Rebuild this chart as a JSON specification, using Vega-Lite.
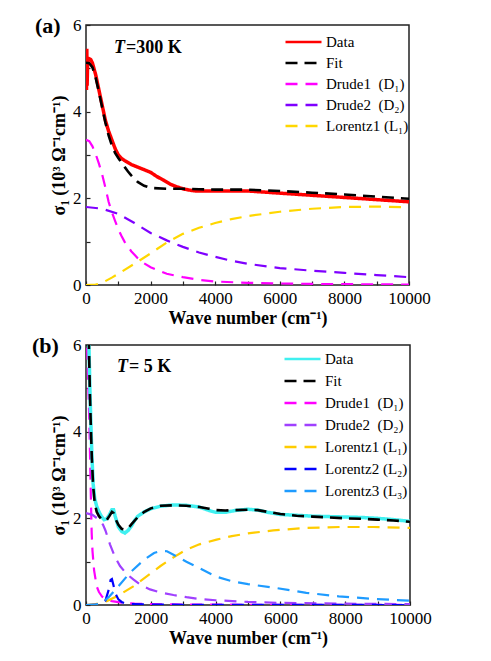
{
  "$schema": "https://vega.github.io/schema/vega-lite/v6.json",
  "background": "white",
  "padding": {"left": 31, "top": 14, "right": 5, "bottom": 5},
  "spacing": 6,
  "config": {
    "font": "Liberation Serif",
    "view": {"stroke": "#222222", "strokeWidth": 1.5},
    "axis": {
      "domain": false, "grid": false, "ticks": true, "tickColor": "#222222", "tickSize": -4, "tickWidth": 1.2,
      "labelFont": "Liberation Serif", "labelFontSize": 17, "labelColor": "black", "labelPadding": 9,
      "titleFont": "Liberation Serif", "titleFontSize": 18, "titleFontWeight": "bold", "titleColor": "black",
      "labelFlush": false, "labelOverlap": false, "format": "d"
    },
    "axisX": {"titlePadding": 3},
    "axisY": {"titlePadding": 4},
    "legend": {
      "orient": "none", "title": null, "symbolType": "stroke", "symbolSize": 1296, "symbolStrokeWidth": 2.5,
      "clipHeight": 14, "labelFont": "Liberation Serif", "labelFontSize": 15, "labelColor": "black",
      "labelOffset": 3, "padding": 0, "labelLimit": 300
    },
    "title": {"font": "Liberation Serif", "fontSize": 22, "fontWeight": "bold", "color": "black", "anchor": "start", "frame": "group", "offset": 0}
  },
  "resolve": {"scale": {"color": "independent", "strokeDash": "independent"}},
  "datasets": {
    "a": [
      {"series": "Data", "wavenumber": 15, "sigma": 4.5},
      {"series": "Data", "wavenumber": 25, "sigma": 5.45},
      {"series": "Data", "wavenumber": 35, "sigma": 4.6},
      {"series": "Data", "wavenumber": 50, "sigma": 5.15},
      {"series": "Data", "wavenumber": 100, "sigma": 5.22},
      {"series": "Data", "wavenumber": 150, "sigma": 5.2},
      {"series": "Data", "wavenumber": 200, "sigma": 5.12},
      {"series": "Data", "wavenumber": 300, "sigma": 4.85},
      {"series": "Data", "wavenumber": 400, "sigma": 4.5},
      {"series": "Data", "wavenumber": 500, "sigma": 4.15},
      {"series": "Data", "wavenumber": 600, "sigma": 3.8},
      {"series": "Data", "wavenumber": 700, "sigma": 3.55},
      {"series": "Data", "wavenumber": 800, "sigma": 3.35},
      {"series": "Data", "wavenumber": 900, "sigma": 3.15},
      {"series": "Data", "wavenumber": 1000, "sigma": 3.0},
      {"series": "Data", "wavenumber": 1100, "sigma": 2.92},
      {"series": "Data", "wavenumber": 1200, "sigma": 2.87},
      {"series": "Data", "wavenumber": 1400, "sigma": 2.78},
      {"series": "Data", "wavenumber": 1600, "sigma": 2.72},
      {"series": "Data", "wavenumber": 1800, "sigma": 2.66},
      {"series": "Data", "wavenumber": 2000, "sigma": 2.6},
      {"series": "Data", "wavenumber": 2200, "sigma": 2.5},
      {"series": "Data", "wavenumber": 2400, "sigma": 2.42},
      {"series": "Data", "wavenumber": 2600, "sigma": 2.33},
      {"series": "Data", "wavenumber": 2800, "sigma": 2.27},
      {"series": "Data", "wavenumber": 3000, "sigma": 2.22},
      {"series": "Data", "wavenumber": 3200, "sigma": 2.19},
      {"series": "Data", "wavenumber": 3400, "sigma": 2.17},
      {"series": "Data", "wavenumber": 4000, "sigma": 2.17},
      {"series": "Data", "wavenumber": 5000, "sigma": 2.17},
      {"series": "Data", "wavenumber": 6000, "sigma": 2.12},
      {"series": "Data", "wavenumber": 7000, "sigma": 2.07},
      {"series": "Data", "wavenumber": 8000, "sigma": 2.02},
      {"series": "Data", "wavenumber": 9000, "sigma": 1.97},
      {"series": "Data", "wavenumber": 10000, "sigma": 1.92},
      {"series": "Fit", "wavenumber": 0, "sigma": 5.13},
      {"series": "Fit", "wavenumber": 100, "sigma": 5.12},
      {"series": "Fit", "wavenumber": 200, "sigma": 5.02},
      {"series": "Fit", "wavenumber": 300, "sigma": 4.78},
      {"series": "Fit", "wavenumber": 400, "sigma": 4.45},
      {"series": "Fit", "wavenumber": 500, "sigma": 4.1},
      {"series": "Fit", "wavenumber": 600, "sigma": 3.75},
      {"series": "Fit", "wavenumber": 700, "sigma": 3.45},
      {"series": "Fit", "wavenumber": 800, "sigma": 3.22},
      {"series": "Fit", "wavenumber": 900, "sigma": 3.05},
      {"series": "Fit", "wavenumber": 1000, "sigma": 2.93},
      {"series": "Fit", "wavenumber": 1100, "sigma": 2.82},
      {"series": "Fit", "wavenumber": 1200, "sigma": 2.72},
      {"series": "Fit", "wavenumber": 1300, "sigma": 2.62},
      {"series": "Fit", "wavenumber": 1400, "sigma": 2.53},
      {"series": "Fit", "wavenumber": 1500, "sigma": 2.45},
      {"series": "Fit", "wavenumber": 1600, "sigma": 2.38},
      {"series": "Fit", "wavenumber": 1800, "sigma": 2.29},
      {"series": "Fit", "wavenumber": 2000, "sigma": 2.24},
      {"series": "Fit", "wavenumber": 2500, "sigma": 2.22},
      {"series": "Fit", "wavenumber": 3000, "sigma": 2.22},
      {"series": "Fit", "wavenumber": 3500, "sigma": 2.21},
      {"series": "Fit", "wavenumber": 4000, "sigma": 2.2},
      {"series": "Fit", "wavenumber": 5000, "sigma": 2.2},
      {"series": "Fit", "wavenumber": 6000, "sigma": 2.17},
      {"series": "Fit", "wavenumber": 7000, "sigma": 2.13},
      {"series": "Fit", "wavenumber": 8000, "sigma": 2.09},
      {"series": "Fit", "wavenumber": 9000, "sigma": 2.04},
      {"series": "Fit", "wavenumber": 10000, "sigma": 1.99},
      {"series": "Drude1\u00a0 (D\u2081)", "wavenumber": 0, "sigma": 3.35},
      {"series": "Drude1\u00a0 (D\u2081)", "wavenumber": 100, "sigma": 3.32},
      {"series": "Drude1\u00a0 (D\u2081)", "wavenumber": 200, "sigma": 3.2},
      {"series": "Drude1\u00a0 (D\u2081)", "wavenumber": 300, "sigma": 3.02},
      {"series": "Drude1\u00a0 (D\u2081)", "wavenumber": 400, "sigma": 2.8},
      {"series": "Drude1\u00a0 (D\u2081)", "wavenumber": 500, "sigma": 2.55},
      {"series": "Drude1\u00a0 (D\u2081)", "wavenumber": 600, "sigma": 2.25},
      {"series": "Drude1\u00a0 (D\u2081)", "wavenumber": 700, "sigma": 1.92},
      {"series": "Drude1\u00a0 (D\u2081)", "wavenumber": 800, "sigma": 1.68},
      {"series": "Drude1\u00a0 (D\u2081)", "wavenumber": 900, "sigma": 1.48},
      {"series": "Drude1\u00a0 (D\u2081)", "wavenumber": 1000, "sigma": 1.28},
      {"series": "Drude1\u00a0 (D\u2081)", "wavenumber": 1100, "sigma": 1.13},
      {"series": "Drude1\u00a0 (D\u2081)", "wavenumber": 1200, "sigma": 0.99},
      {"series": "Drude1\u00a0 (D\u2081)", "wavenumber": 1400, "sigma": 0.78},
      {"series": "Drude1\u00a0 (D\u2081)", "wavenumber": 1600, "sigma": 0.62},
      {"series": "Drude1\u00a0 (D\u2081)", "wavenumber": 1800, "sigma": 0.5},
      {"series": "Drude1\u00a0 (D\u2081)", "wavenumber": 2000, "sigma": 0.41},
      {"series": "Drude1\u00a0 (D\u2081)", "wavenumber": 2500, "sigma": 0.26},
      {"series": "Drude1\u00a0 (D\u2081)", "wavenumber": 3000, "sigma": 0.18},
      {"series": "Drude1\u00a0 (D\u2081)", "wavenumber": 3500, "sigma": 0.12},
      {"series": "Drude1\u00a0 (D\u2081)", "wavenumber": 4000, "sigma": 0.08},
      {"series": "Drude1\u00a0 (D\u2081)", "wavenumber": 5000, "sigma": 0.05},
      {"series": "Drude1\u00a0 (D\u2081)", "wavenumber": 6000, "sigma": 0.035},
      {"series": "Drude1\u00a0 (D\u2081)", "wavenumber": 7000, "sigma": 0.025},
      {"series": "Drude1\u00a0 (D\u2081)", "wavenumber": 8000, "sigma": 0.02},
      {"series": "Drude1\u00a0 (D\u2081)", "wavenumber": 9000, "sigma": 0.015},
      {"series": "Drude1\u00a0 (D\u2081)", "wavenumber": 10000, "sigma": 0.01},
      {"series": "Drude2\u00a0 (D\u2082)", "wavenumber": 0, "sigma": 1.8},
      {"series": "Drude2\u00a0 (D\u2082)", "wavenumber": 500, "sigma": 1.76},
      {"series": "Drude2\u00a0 (D\u2082)", "wavenumber": 1000, "sigma": 1.64},
      {"series": "Drude2\u00a0 (D\u2082)", "wavenumber": 1500, "sigma": 1.43},
      {"series": "Drude2\u00a0 (D\u2082)", "wavenumber": 2000, "sigma": 1.2},
      {"series": "Drude2\u00a0 (D\u2082)", "wavenumber": 2500, "sigma": 1.03},
      {"series": "Drude2\u00a0 (D\u2082)", "wavenumber": 3000, "sigma": 0.88},
      {"series": "Drude2\u00a0 (D\u2082)", "wavenumber": 3500, "sigma": 0.75},
      {"series": "Drude2\u00a0 (D\u2082)", "wavenumber": 4000, "sigma": 0.65},
      {"series": "Drude2\u00a0 (D\u2082)", "wavenumber": 4500, "sigma": 0.56},
      {"series": "Drude2\u00a0 (D\u2082)", "wavenumber": 5000, "sigma": 0.49},
      {"series": "Drude2\u00a0 (D\u2082)", "wavenumber": 6000, "sigma": 0.39},
      {"series": "Drude2\u00a0 (D\u2082)", "wavenumber": 7000, "sigma": 0.33},
      {"series": "Drude2\u00a0 (D\u2082)", "wavenumber": 8000, "sigma": 0.28},
      {"series": "Drude2\u00a0 (D\u2082)", "wavenumber": 9000, "sigma": 0.23},
      {"series": "Drude2\u00a0 (D\u2082)", "wavenumber": 10000, "sigma": 0.18},
      {"series": "Lorentz1 (L\u2081)", "wavenumber": 0, "sigma": 0},
      {"series": "Lorentz1 (L\u2081)", "wavenumber": 300, "sigma": 0.01},
      {"series": "Lorentz1 (L\u2081)", "wavenumber": 500, "sigma": 0.05},
      {"series": "Lorentz1 (L\u2081)", "wavenumber": 800, "sigma": 0.17},
      {"series": "Lorentz1 (L\u2081)", "wavenumber": 1000, "sigma": 0.26},
      {"series": "Lorentz1 (L\u2081)", "wavenumber": 1500, "sigma": 0.49},
      {"series": "Lorentz1 (L\u2081)", "wavenumber": 2000, "sigma": 0.73},
      {"series": "Lorentz1 (L\u2081)", "wavenumber": 2500, "sigma": 0.98},
      {"series": "Lorentz1 (L\u2081)", "wavenumber": 3000, "sigma": 1.18},
      {"series": "Lorentz1 (L\u2081)", "wavenumber": 3500, "sigma": 1.32},
      {"series": "Lorentz1 (L\u2081)", "wavenumber": 4000, "sigma": 1.43},
      {"series": "Lorentz1 (L\u2081)", "wavenumber": 4500, "sigma": 1.52},
      {"series": "Lorentz1 (L\u2081)", "wavenumber": 5000, "sigma": 1.59},
      {"series": "Lorentz1 (L\u2081)", "wavenumber": 6000, "sigma": 1.69},
      {"series": "Lorentz1 (L\u2081)", "wavenumber": 7000, "sigma": 1.76},
      {"series": "Lorentz1 (L\u2081)", "wavenumber": 8000, "sigma": 1.8},
      {"series": "Lorentz1 (L\u2081)", "wavenumber": 9000, "sigma": 1.81},
      {"series": "Lorentz1 (L\u2081)", "wavenumber": 10000, "sigma": 1.79}
    ],
    "b": [
      {"series": "Data", "wavenumber": 30, "sigma": 7.5},
      {"series": "Data", "wavenumber": 60, "sigma": 6.6},
      {"series": "Data", "wavenumber": 90, "sigma": 6.0},
      {"series": "Data", "wavenumber": 120, "sigma": 5.0},
      {"series": "Data", "wavenumber": 150, "sigma": 4.2},
      {"series": "Data", "wavenumber": 180, "sigma": 3.5},
      {"series": "Data", "wavenumber": 220, "sigma": 2.8},
      {"series": "Data", "wavenumber": 270, "sigma": 2.45},
      {"series": "Data", "wavenumber": 330, "sigma": 2.28},
      {"series": "Data", "wavenumber": 400, "sigma": 2.15},
      {"series": "Data", "wavenumber": 480, "sigma": 2.04},
      {"series": "Data", "wavenumber": 560, "sigma": 1.97},
      {"series": "Data", "wavenumber": 640, "sigma": 1.99},
      {"series": "Data", "wavenumber": 720, "sigma": 2.08},
      {"series": "Data", "wavenumber": 800, "sigma": 2.2},
      {"series": "Data", "wavenumber": 850, "sigma": 2.2},
      {"series": "Data", "wavenumber": 900, "sigma": 2.05},
      {"series": "Data", "wavenumber": 1000, "sigma": 1.8},
      {"series": "Data", "wavenumber": 1100, "sigma": 1.7},
      {"series": "Data", "wavenumber": 1200, "sigma": 1.66},
      {"series": "Data", "wavenumber": 1300, "sigma": 1.72},
      {"series": "Data", "wavenumber": 1400, "sigma": 1.82},
      {"series": "Data", "wavenumber": 1500, "sigma": 1.95},
      {"series": "Data", "wavenumber": 1600, "sigma": 2.05},
      {"series": "Data", "wavenumber": 1800, "sigma": 2.15},
      {"series": "Data", "wavenumber": 2000, "sigma": 2.22},
      {"series": "Data", "wavenumber": 2300, "sigma": 2.28},
      {"series": "Data", "wavenumber": 2700, "sigma": 2.31},
      {"series": "Data", "wavenumber": 3100, "sigma": 2.3},
      {"series": "Data", "wavenumber": 3500, "sigma": 2.26},
      {"series": "Data", "wavenumber": 3800, "sigma": 2.18},
      {"series": "Data", "wavenumber": 4000, "sigma": 2.14},
      {"series": "Data", "wavenumber": 4300, "sigma": 2.14},
      {"series": "Data", "wavenumber": 4600, "sigma": 2.18},
      {"series": "Data", "wavenumber": 5000, "sigma": 2.21},
      {"series": "Data", "wavenumber": 5300, "sigma": 2.19},
      {"series": "Data", "wavenumber": 5600, "sigma": 2.14},
      {"series": "Data", "wavenumber": 6000, "sigma": 2.09},
      {"series": "Data", "wavenumber": 6500, "sigma": 2.07},
      {"series": "Data", "wavenumber": 7000, "sigma": 2.05},
      {"series": "Data", "wavenumber": 7500, "sigma": 2.04},
      {"series": "Data", "wavenumber": 8000, "sigma": 2.03},
      {"series": "Data", "wavenumber": 8500, "sigma": 2.02},
      {"series": "Data", "wavenumber": 9000, "sigma": 2.0},
      {"series": "Data", "wavenumber": 9500, "sigma": 1.97},
      {"series": "Data", "wavenumber": 10000, "sigma": 1.93},
      {"series": "Fit", "wavenumber": 30, "sigma": 7.5},
      {"series": "Fit", "wavenumber": 60, "sigma": 6.6},
      {"series": "Fit", "wavenumber": 90, "sigma": 6.0},
      {"series": "Fit", "wavenumber": 120, "sigma": 4.9},
      {"series": "Fit", "wavenumber": 150, "sigma": 4.1},
      {"series": "Fit", "wavenumber": 180, "sigma": 3.4},
      {"series": "Fit", "wavenumber": 220, "sigma": 2.75},
      {"series": "Fit", "wavenumber": 270, "sigma": 2.35},
      {"series": "Fit", "wavenumber": 330, "sigma": 2.15},
      {"series": "Fit", "wavenumber": 400, "sigma": 2.05},
      {"series": "Fit", "wavenumber": 480, "sigma": 1.98},
      {"series": "Fit", "wavenumber": 560, "sigma": 1.95},
      {"series": "Fit", "wavenumber": 640, "sigma": 1.96},
      {"series": "Fit", "wavenumber": 720, "sigma": 2.05},
      {"series": "Fit", "wavenumber": 800, "sigma": 2.15},
      {"series": "Fit", "wavenumber": 850, "sigma": 2.12},
      {"series": "Fit", "wavenumber": 900, "sigma": 2.0},
      {"series": "Fit", "wavenumber": 1000, "sigma": 1.85},
      {"series": "Fit", "wavenumber": 1100, "sigma": 1.76},
      {"series": "Fit", "wavenumber": 1200, "sigma": 1.74},
      {"series": "Fit", "wavenumber": 1300, "sigma": 1.77},
      {"series": "Fit", "wavenumber": 1400, "sigma": 1.86},
      {"series": "Fit", "wavenumber": 1600, "sigma": 2.03},
      {"series": "Fit", "wavenumber": 1800, "sigma": 2.15},
      {"series": "Fit", "wavenumber": 2000, "sigma": 2.23},
      {"series": "Fit", "wavenumber": 2300, "sigma": 2.29},
      {"series": "Fit", "wavenumber": 2700, "sigma": 2.3},
      {"series": "Fit", "wavenumber": 3100, "sigma": 2.29},
      {"series": "Fit", "wavenumber": 3500, "sigma": 2.26},
      {"series": "Fit", "wavenumber": 3800, "sigma": 2.22},
      {"series": "Fit", "wavenumber": 4000, "sigma": 2.19},
      {"series": "Fit", "wavenumber": 4300, "sigma": 2.18},
      {"series": "Fit", "wavenumber": 4600, "sigma": 2.19},
      {"series": "Fit", "wavenumber": 5000, "sigma": 2.2},
      {"series": "Fit", "wavenumber": 5300, "sigma": 2.19},
      {"series": "Fit", "wavenumber": 5600, "sigma": 2.15},
      {"series": "Fit", "wavenumber": 6000, "sigma": 2.1},
      {"series": "Fit", "wavenumber": 6500, "sigma": 2.06},
      {"series": "Fit", "wavenumber": 7000, "sigma": 2.04},
      {"series": "Fit", "wavenumber": 7500, "sigma": 2.02},
      {"series": "Fit", "wavenumber": 8000, "sigma": 2.0},
      {"series": "Fit", "wavenumber": 8500, "sigma": 1.99},
      {"series": "Fit", "wavenumber": 9000, "sigma": 1.97},
      {"series": "Fit", "wavenumber": 9500, "sigma": 1.95},
      {"series": "Fit", "wavenumber": 10000, "sigma": 1.92},
      {"series": "Drude1\u00a0 (D\u2081)", "wavenumber": 20, "sigma": 6.4},
      {"series": "Drude1\u00a0 (D\u2081)", "wavenumber": 50, "sigma": 5.6},
      {"series": "Drude1\u00a0 (D\u2081)", "wavenumber": 71, "sigma": 5.05},
      {"series": "Drude1\u00a0 (D\u2081)", "wavenumber": 100, "sigma": 4.3},
      {"series": "Drude1\u00a0 (D\u2081)", "wavenumber": 123, "sigma": 3.5},
      {"series": "Drude1\u00a0 (D\u2081)", "wavenumber": 150, "sigma": 2.5},
      {"series": "Drude1\u00a0 (D\u2081)", "wavenumber": 175, "sigma": 1.67},
      {"series": "Drude1\u00a0 (D\u2081)", "wavenumber": 200, "sigma": 1.25},
      {"series": "Drude1\u00a0 (D\u2081)", "wavenumber": 250, "sigma": 0.8},
      {"series": "Drude1\u00a0 (D\u2081)", "wavenumber": 330, "sigma": 0.43},
      {"series": "Drude1\u00a0 (D\u2081)", "wavenumber": 400, "sigma": 0.3},
      {"series": "Drude1\u00a0 (D\u2081)", "wavenumber": 500, "sigma": 0.19},
      {"series": "Drude1\u00a0 (D\u2081)", "wavenumber": 640, "sigma": 0.13},
      {"series": "Drude1\u00a0 (D\u2081)", "wavenumber": 800, "sigma": 0.09},
      {"series": "Drude1\u00a0 (D\u2081)", "wavenumber": 1050, "sigma": 0.06},
      {"series": "Drude1\u00a0 (D\u2081)", "wavenumber": 1500, "sigma": 0.03},
      {"series": "Drude1\u00a0 (D\u2081)", "wavenumber": 2000, "sigma": 0.02},
      {"series": "Drude1\u00a0 (D\u2081)", "wavenumber": 3000, "sigma": 0.01},
      {"series": "Drude1\u00a0 (D\u2081)", "wavenumber": 5000, "sigma": 0.005},
      {"series": "Drude1\u00a0 (D\u2081)", "wavenumber": 10000, "sigma": 0.002},
      {"series": "Drude2\u00a0 (D\u2082)", "wavenumber": 0, "sigma": 2.12},
      {"series": "Drude2\u00a0 (D\u2082)", "wavenumber": 200, "sigma": 2.08},
      {"series": "Drude2\u00a0 (D\u2082)", "wavenumber": 400, "sigma": 1.97},
      {"series": "Drude2\u00a0 (D\u2082)", "wavenumber": 526, "sigma": 1.85},
      {"series": "Drude2\u00a0 (D\u2082)", "wavenumber": 600, "sigma": 1.72},
      {"series": "Drude2\u00a0 (D\u2082)", "wavenumber": 740, "sigma": 1.4},
      {"series": "Drude2\u00a0 (D\u2082)", "wavenumber": 900, "sigma": 1.1},
      {"series": "Drude2\u00a0 (D\u2082)", "wavenumber": 1050, "sigma": 0.9},
      {"series": "Drude2\u00a0 (D\u2082)", "wavenumber": 1250, "sigma": 0.72},
      {"series": "Drude2\u00a0 (D\u2082)", "wavenumber": 1460, "sigma": 0.59},
      {"series": "Drude2\u00a0 (D\u2082)", "wavenumber": 1700, "sigma": 0.46},
      {"series": "Drude2\u00a0 (D\u2082)", "wavenumber": 1975, "sigma": 0.36},
      {"series": "Drude2\u00a0 (D\u2082)", "wavenumber": 2300, "sigma": 0.29},
      {"series": "Drude2\u00a0 (D\u2082)", "wavenumber": 2700, "sigma": 0.23},
      {"series": "Drude2\u00a0 (D\u2082)", "wavenumber": 3100, "sigma": 0.18},
      {"series": "Drude2\u00a0 (D\u2082)", "wavenumber": 3500, "sigma": 0.14},
      {"series": "Drude2\u00a0 (D\u2082)", "wavenumber": 4000, "sigma": 0.11},
      {"series": "Drude2\u00a0 (D\u2082)", "wavenumber": 5000, "sigma": 0.07},
      {"series": "Drude2\u00a0 (D\u2082)", "wavenumber": 6000, "sigma": 0.05},
      {"series": "Drude2\u00a0 (D\u2082)", "wavenumber": 8000, "sigma": 0.03},
      {"series": "Drude2\u00a0 (D\u2082)", "wavenumber": 10000, "sigma": 0.02},
      {"series": "Lorentz1 (L\u2081)", "wavenumber": 0, "sigma": 0},
      {"series": "Lorentz1 (L\u2081)", "wavenumber": 300, "sigma": 0.02},
      {"series": "Lorentz1 (L\u2081)", "wavenumber": 640, "sigma": 0.09},
      {"series": "Lorentz1 (L\u2081)", "wavenumber": 1000, "sigma": 0.22},
      {"series": "Lorentz1 (L\u2081)", "wavenumber": 1460, "sigma": 0.43},
      {"series": "Lorentz1 (L\u2081)", "wavenumber": 2000, "sigma": 0.73},
      {"series": "Lorentz1 (L\u2081)", "wavenumber": 2300, "sigma": 0.9},
      {"series": "Lorentz1 (L\u2081)", "wavenumber": 2700, "sigma": 1.1},
      {"series": "Lorentz1 (L\u2081)", "wavenumber": 3100, "sigma": 1.28},
      {"series": "Lorentz1 (L\u2081)", "wavenumber": 3500, "sigma": 1.4},
      {"series": "Lorentz1 (L\u2081)", "wavenumber": 4030, "sigma": 1.51},
      {"series": "Lorentz1 (L\u2081)", "wavenumber": 4500, "sigma": 1.59},
      {"series": "Lorentz1 (L\u2081)", "wavenumber": 5060, "sigma": 1.66},
      {"series": "Lorentz1 (L\u2081)", "wavenumber": 5780, "sigma": 1.72},
      {"series": "Lorentz1 (L\u2081)", "wavenumber": 6810, "sigma": 1.78},
      {"series": "Lorentz1 (L\u2081)", "wavenumber": 7840, "sigma": 1.8},
      {"series": "Lorentz1 (L\u2081)", "wavenumber": 8880, "sigma": 1.8},
      {"series": "Lorentz1 (L\u2081)", "wavenumber": 10000, "sigma": 1.78},
      {"series": "Lorentz2 (L\u2082)", "wavenumber": 0, "sigma": 0},
      {"series": "Lorentz2 (L\u2082)", "wavenumber": 400, "sigma": 0.01},
      {"series": "Lorentz2 (L\u2082)", "wavenumber": 500, "sigma": 0.03},
      {"series": "Lorentz2 (L\u2082)", "wavenumber": 600, "sigma": 0.1},
      {"series": "Lorentz2 (L\u2082)", "wavenumber": 700, "sigma": 0.35},
      {"series": "Lorentz2 (L\u2082)", "wavenumber": 760, "sigma": 0.58},
      {"series": "Lorentz2 (L\u2082)", "wavenumber": 800, "sigma": 0.6},
      {"series": "Lorentz2 (L\u2082)", "wavenumber": 850, "sigma": 0.45},
      {"series": "Lorentz2 (L\u2082)", "wavenumber": 900, "sigma": 0.28},
      {"series": "Lorentz2 (L\u2082)", "wavenumber": 1000, "sigma": 0.13},
      {"series": "Lorentz2 (L\u2082)", "wavenumber": 1100, "sigma": 0.07},
      {"series": "Lorentz2 (L\u2082)", "wavenumber": 1200, "sigma": 0.04},
      {"series": "Lorentz2 (L\u2082)", "wavenumber": 1400, "sigma": 0.02},
      {"series": "Lorentz2 (L\u2082)", "wavenumber": 2000, "sigma": 0.01},
      {"series": "Lorentz2 (L\u2082)", "wavenumber": 3000, "sigma": 0.005},
      {"series": "Lorentz2 (L\u2082)", "wavenumber": 10000, "sigma": 0.0},
      {"series": "Lorentz3 (L\u2083)", "wavenumber": 0, "sigma": 0},
      {"series": "Lorentz3 (L\u2083)", "wavenumber": 300, "sigma": 0.01},
      {"series": "Lorentz3 (L\u2083)", "wavenumber": 500, "sigma": 0.05},
      {"series": "Lorentz3 (L\u2083)", "wavenumber": 700, "sigma": 0.18},
      {"series": "Lorentz3 (L\u2083)", "wavenumber": 1000, "sigma": 0.43},
      {"series": "Lorentz3 (L\u2083)", "wavenumber": 1350, "sigma": 0.74},
      {"series": "Lorentz3 (L\u2083)", "wavenumber": 1800, "sigma": 1.05},
      {"series": "Lorentz3 (L\u2083)", "wavenumber": 2100, "sigma": 1.2},
      {"series": "Lorentz3 (L\u2083)", "wavenumber": 2300, "sigma": 1.25},
      {"series": "Lorentz3 (L\u2083)", "wavenumber": 2500, "sigma": 1.24},
      {"series": "Lorentz3 (L\u2083)", "wavenumber": 2800, "sigma": 1.12},
      {"series": "Lorentz3 (L\u2083)", "wavenumber": 3100, "sigma": 1.0},
      {"series": "Lorentz3 (L\u2083)", "wavenumber": 3500, "sigma": 0.85},
      {"series": "Lorentz3 (L\u2083)", "wavenumber": 4000, "sigma": 0.66},
      {"series": "Lorentz3 (L\u2083)", "wavenumber": 4500, "sigma": 0.55},
      {"series": "Lorentz3 (L\u2083)", "wavenumber": 5000, "sigma": 0.48},
      {"series": "Lorentz3 (L\u2083)", "wavenumber": 5800, "sigma": 0.4},
      {"series": "Lorentz3 (L\u2083)", "wavenumber": 6800, "sigma": 0.28},
      {"series": "Lorentz3 (L\u2083)", "wavenumber": 7800, "sigma": 0.2},
      {"series": "Lorentz3 (L\u2083)", "wavenumber": 8900, "sigma": 0.14},
      {"series": "Lorentz3 (L\u2083)", "wavenumber": 10000, "sigma": 0.1}
    ],
    "notesA": [
      {"wavenumber": 870, "sigma": 5.36, "label": "T", "part": "italic"},
      {"wavenumber": 1240, "sigma": 5.36, "label": "=300 K", "part": "normal"}
    ],
    "notesB": [
      {"wavenumber": 957, "sigma": 5.37, "label": "T", "part": "italic"},
      {"wavenumber": 1330, "sigma": 5.37, "label": "= 5 K", "part": "normal"}
    ]
  },
  "vconcat": [
    {
      "width": 323,
      "height": 260,
      "title": {"text": "(a)", "dx": -51, "dy": 26},
      "encoding": {
        "x": {"field": "wavenumber", "type": "quantitative", "scale": {"domain": [0, 10000], "nice": false},
              "axis": {"title": "Wave number (cm\u207b\u00b9)", "values": [0,1000,2000,3000,4000,5000,6000,7000,8000,9000,10000], "labelExpr": "datum.value % 2000 === 0 ? datum.label : ''"}},
        "y": {"field": "sigma", "type": "quantitative", "scale": {"domain": [0, 6], "nice": false},
              "axis": {"title": "\u03c3\u2081 (10\u00b3 \u03a9\u207b\u00b9cm\u207b\u00b9)", "values": [0,1,2,3,4,5,6], "labelExpr": "datum.value % 2 === 0 ? datum.label : ''"}}
      },
      "layer": [
        {
          "data": {"name": "a"},
          "transform": [{"filter": "datum.series != 'Data' && datum.series != 'Fit'"}],
          "mark": {"type": "line", "strokeWidth": 2.2, "clip": true},
          "encoding": {
            "color": {"field": "series", "type": "nominal",
              "scale": {"domain": ["Data", "Fit", "Drude1\u00a0 (D\u2081)", "Drude2\u00a0 (D\u2082)", "Lorentz1 (L\u2081)"], "range": ["#FF0000", "#000000", "#FF00FF", "#7F00FF", "#FFD700"]},
              "legend": {"legendX": 198, "legendY": 10, "rowPadding": 6, "labelExpr": "datum.label == 'Data' ? '\u00a0\u00a0\u00a0Data' : datum.label == 'Fit' ? '\u00a0\u00a0\u00a0\u00a0Fit' : datum.label"}},
            "strokeDash": {"field": "series", "type": "nominal",
              "scale": {"domain": ["Data", "Fit", "Drude1\u00a0 (D\u2081)", "Drude2\u00a0 (D\u2082)", "Lorentz1 (L\u2081)"], "range": [[1, 0], [12, 7], [12, 8], [12, 8], [12, 8]]},
              "legend": {"legendX": 198, "legendY": 10, "rowPadding": 6, "labelExpr": "datum.label == 'Data' ? '\u00a0\u00a0\u00a0Data' : datum.label == 'Fit' ? '\u00a0\u00a0\u00a0\u00a0Fit' : datum.label"}}
          }
        },
        {
          "data": {"name": "a"},
          "transform": [{"filter": "datum.series == 'Data'"}],
          "mark": {"type": "line", "strokeWidth": 3.5, "clip": true},
          "encoding": {"color": {"field": "series", "type": "nominal"}, "strokeDash": {"field": "series", "type": "nominal"}}
        },
        {
          "data": {"name": "a"},
          "transform": [{"filter": "datum.series == 'Fit'"}],
          "mark": {"type": "line", "strokeWidth": 2.6, "clip": true},
          "encoding": {"color": {"field": "series", "type": "nominal"}, "strokeDash": {"field": "series", "type": "nominal"}}
        },
        {
          "data": {"name": "notesA"},
          "transform": [{"filter": "datum.part == 'italic'"}],
          "mark": {"type": "text", "fontSize": 18, "fontWeight": "bold", "fontStyle": "italic", "align": "left", "baseline": "alphabetic", "color": "black", "font": "Liberation Serif"},
          "encoding": {"text": {"field": "label"}}
        },
        {
          "data": {"name": "notesA"},
          "transform": [{"filter": "datum.part == 'normal'"}],
          "mark": {"type": "text", "fontSize": 18, "fontWeight": "bold", "align": "left", "baseline": "alphabetic", "color": "black", "font": "Liberation Serif"},
          "encoding": {"text": {"field": "label"}}
        }
      ]
    },
    {
      "width": 324,
      "height": 260,
      "title": {"text": "(b)", "dx": -54, "dy": 26},
      "encoding": {
        "x": {"field": "wavenumber", "type": "quantitative", "scale": {"domain": [0, 10000], "nice": false},
              "axis": {"title": "Wave number (cm\u207b\u00b9)", "values": [0,1000,2000,3000,4000,5000,6000,7000,8000,9000,10000], "labelExpr": "datum.value % 2000 === 0 ? datum.label : ''"}},
        "y": {"field": "sigma", "type": "quantitative", "scale": {"domain": [0, 6], "nice": false},
              "axis": {"title": "\u03c3\u2081 (10\u00b3 \u03a9\u207b\u00b9cm\u207b\u00b9)", "values": [0,1,2,3,4,5,6], "labelExpr": "datum.value % 2 === 0 ? datum.label : ''"}}
      },
      "layer": [
        {
          "data": {"name": "b"},
          "transform": [{"filter": "datum.series != 'Data' && datum.series != 'Fit'"}],
          "mark": {"type": "line", "strokeWidth": 2.2, "clip": true},
          "encoding": {
            "color": {"field": "series", "type": "nominal",
              "scale": {"domain": ["Data", "Fit", "Drude1\u00a0 (D\u2081)", "Drude2\u00a0 (D\u2082)", "Lorentz1 (L\u2081)", "Lorentz2 (L\u2082)", "Lorentz3 (L\u2083)"], "range": ["#40F0F0", "#000000", "#FF00FF", "#A040FF", "#FFCC00", "#0000FF", "#1E9BFF"]},
              "legend": {"legendX": 197, "legendY": 7, "rowPadding": 7, "labelExpr": "datum.label == 'Data' ? '\u00a0Data' : datum.label == 'Fit' ? '\u00a0\u00a0Fit' : datum.label"}},
            "strokeDash": {"field": "series", "type": "nominal",
              "scale": {"domain": ["Data", "Fit", "Drude1\u00a0 (D\u2081)", "Drude2\u00a0 (D\u2082)", "Lorentz1 (L\u2081)", "Lorentz2 (L\u2082)", "Lorentz3 (L\u2083)"], "range": [[1, 0], [12, 7], [12, 8], [12, 8], [12, 8], [12, 8], [12, 8]]},
              "legend": {"legendX": 197, "legendY": 7, "rowPadding": 7, "labelExpr": "datum.label == 'Data' ? '\u00a0Data' : datum.label == 'Fit' ? '\u00a0\u00a0Fit' : datum.label"}}
          }
        },
        {
          "data": {"name": "b"},
          "transform": [{"filter": "datum.series == 'Data'"}],
          "mark": {"type": "line", "strokeWidth": 3.5, "clip": true},
          "encoding": {"color": {"field": "series", "type": "nominal"}, "strokeDash": {"field": "series", "type": "nominal"}}
        },
        {
          "data": {"name": "b"},
          "transform": [{"filter": "datum.series == 'Fit'"}],
          "mark": {"type": "line", "strokeWidth": 2.6, "clip": true},
          "encoding": {"color": {"field": "series", "type": "nominal"}, "strokeDash": {"field": "series", "type": "nominal"}}
        },
        {
          "data": {"name": "notesB"},
          "transform": [{"filter": "datum.part == 'italic'"}],
          "mark": {"type": "text", "fontSize": 18, "fontWeight": "bold", "fontStyle": "italic", "align": "left", "baseline": "alphabetic", "color": "black", "font": "Liberation Serif"},
          "encoding": {"text": {"field": "label"}}
        },
        {
          "data": {"name": "notesB"},
          "transform": [{"filter": "datum.part == 'normal'"}],
          "mark": {"type": "text", "fontSize": 18, "fontWeight": "bold", "align": "left", "baseline": "alphabetic", "color": "black", "font": "Liberation Serif"},
          "encoding": {"text": {"field": "label"}}
        }
      ]
    }
  ]
}
